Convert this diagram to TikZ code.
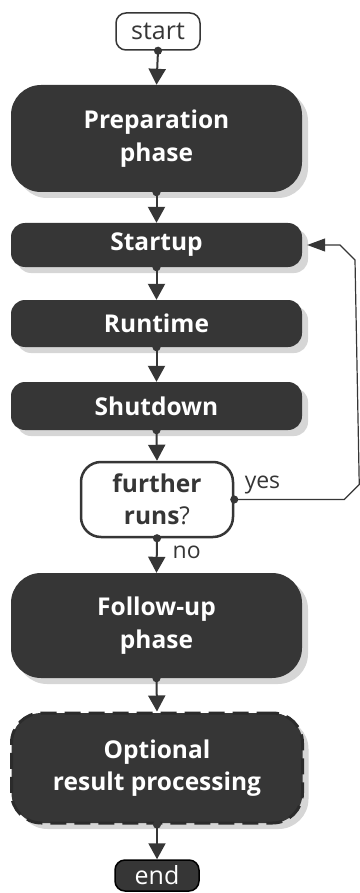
\documentclass[tikz,border=0pt]{standalone}
\usepackage{fontspec}
\setmainfont{Open Sans}
\usetikzlibrary{arrows.meta,shadows}
\definecolor{boxdark}{HTML}{363636}
\definecolor{shadowgray}{HTML}{D6D6D6}
\tikzset{
  base/.style={inner sep=0pt, align=center, font=\fontsize{24.5}{32.5}\selectfont\bfseries},
  phase/.style={base, fill=boxdark, text=white, rounded corners=#1,
    minimum width=291pt,
    drop shadow={shadow xshift=6pt, shadow yshift=-6pt, fill=shadowgray, opacity=1}},
  term/.style={inner sep=0pt, align=center, font=\fontsize{25}{26}\selectfont,
    minimum width=84pt, rounded corners=10pt, line width=1.5pt},
  decisionbox/.style={base, draw=boxdark, line width=2.5pt, fill=white, text=boxdark,
    rounded corners=20pt, minimum width=152pt, minimum height=75pt},
  flow/.style={line width=2pt, draw=boxdark, shorten <=-4pt,
    {Circle[length=8pt,fill=boxdark]}-{Triangle[width=17pt,length=16pt]}},
  back/.style={line width=1.2pt, draw=boxdark, shorten <=-4pt,
    {Circle[length=8pt]}-{Triangle[width=13pt,length=18pt]}},
  lbl/.style={font=\fontsize{23}{26}\selectfont, text=boxdark, inner sep=0pt}
}
\begin{document}
\begin{tikzpicture}[x=1pt,y=-1pt]
\useasboundingbox (0,0) rectangle (359,893);
\node[term, draw=boxdark, fill=white, text=boxdark, minimum height=37pt] (start) at (158,31.5) {start};
\node[phase=30pt, minimum height=107pt] (prep) at (156.5,138.5) {Preparation\\phase};
\node[phase=14pt, minimum height=44pt] (startup) at (156.5,245) {Startup};
\node[phase=14pt, minimum height=47pt] (runtime) at (156.5,323.5) {Runtime};
\node[phase=14pt, minimum height=48pt] (shutdown) at (156.5,406) {Shutdown};
\node[decisionbox] (dec) at (157,499.5) {further\\runs{\mdseries ?}};
\node[phase=30pt, minimum height=105pt] (follow) at (156.5,625.5) {Follow-up\\phase};
\node[phase=30pt, minimum height=110pt, draw=boxdark!80!black, line width=3pt,
      dash pattern=on 16pt off 8pt] (opt) at (157,768) {Optional\\result processing};
\node[term, draw=black, fill=boxdark, text=white, minimum height=31pt] (end) at (157,875.5) {end};

\draw[flow] (start.south) -- (prep.north);
\draw[flow] (prep.south) -- (startup.north);
\draw[flow] (startup.south) -- (runtime.north);
\draw[flow] (runtime.south) -- (shutdown.north);
\draw[flow] (shutdown.south) -- (dec.north);
\draw[flow] (dec.south) -- node[lbl, anchor=base west, pos=0.58, xshift=15pt] {no} (follow.north);
\draw[flow] (follow.south) -- (opt.north);
\draw[flow] (opt.south) -- (end.north);
\draw[back] (dec.east) -- node[lbl, anchor=base west, pos=0.09, yshift=11.5pt] {yes} ++(110,0) -- ++(15,-15)
  -- (355,260) -- (340,245) -- ([xshift=5pt]startup.east);
\end{tikzpicture}
\end{document}
